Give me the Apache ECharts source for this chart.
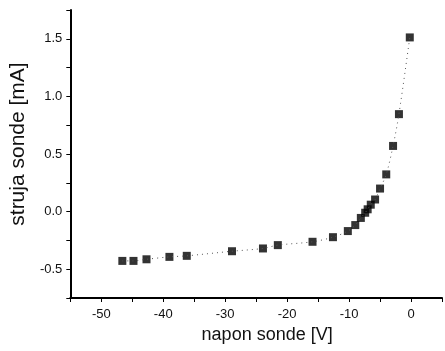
<!DOCTYPE html>
<html><head><meta charset="utf-8">
<script src="https://cdn.jsdelivr.net/npm/echarts@6/dist/echarts.min.js"></script>
<style>html,body{margin:0;padding:0;background:#fff}#c{width:445px;height:351px}</style>
</head><body><div id="c"></div>
<script>
const voltage = [-46.6, -44.8, -42.7, -39.0, -36.2, -28.9, -23.9, -21.5, -15.9, -12.6, -10.2, -9.0, -8.1, -7.4, -7.0, -6.5, -5.8, -5.0, -4.0, -2.9, -1.95, -0.2];
const current = [-0.428, -0.428, -0.414, -0.393, -0.384, -0.344, -0.320, -0.291, -0.262, -0.222, -0.169, -0.117, -0.055, -0.01, 0.02, 0.06, 0.105, 0.2, 0.323, 0.57, 0.846, 1.512];
const xTicks = [-50, -40, -30, -20, -10, 0];
const yTicks = [-0.5, 0.0, 0.5, 1.0, 1.5];

const pts = voltage.map((v, i) => [v, current[i]]);
const chart = echarts.init(document.getElementById('c'));
const font = 'Liberation Sans, Arial, sans-serif';
chart.setOption({
  animation: false,
  grid: {left: 70, right: 0, top: 10, bottom: 53},
  xAxis: {
    type: 'value', min: -55, max: 5, interval: 5,
    name: 'napon sonde [V]', nameLocation: 'middle', nameGap: 27,
    nameTextStyle: {fontFamily: font, fontSize: 18, color: '#111', padding: [0, 0, 0, 22]},
    axisLine: {show: true, onZero: false, lineStyle: {color: '#000', width: 2}},
    axisTick: {show: true, inside: false, length: 4, lineStyle: {color: '#000'}},
    splitLine: {show: false},
    axisLabel: {fontFamily: font, fontSize: 13, color: '#111', margin: 10,
      formatter: v => xTicks.includes(v) ? String(v) : ''}
  },
  yAxis: {
    type: 'value', min: -0.75, max: 1.75, interval: 0.25,
    name: 'struja sonde [mA]', nameLocation: 'middle', nameGap: 38,
    nameTextStyle: {fontFamily: font, fontSize: 21, color: '#111', padding: [0, 0, 0, 20]},
    axisLine: {show: true, onZero: false, lineStyle: {color: '#000', width: 2}},
    axisTick: {show: true, inside: false, length: 4, lineStyle: {color: '#000'}},
    splitLine: {show: false},
    axisLabel: {fontFamily: font, fontSize: 13, color: '#111', margin: 8,
      formatter: v => yTicks.some(t => Math.abs(t - v) < 1e-9) ? v.toFixed(1) : ''}
  },
  series: [
    {type: 'line', data: pts, smooth: 0.3, symbol: 'none',
     lineStyle: {color: '#555', width: 1, type: [1, 4]}},
    {type: 'scatter', data: pts, symbol: 'rect', symbolSize: 8,
     itemStyle: {color: '#000'}}
  ]
});
</script></body></html>
